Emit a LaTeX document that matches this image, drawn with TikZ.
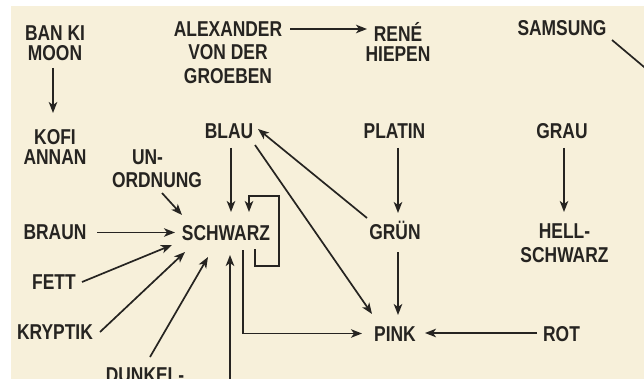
\documentclass[tikz,border=0pt]{standalone}
\usepackage{fontspec}
\setmainfont{Liberation Sans}[FakeStretch=0.81]
\usetikzlibrary{arrows.meta}
\definecolor{paper}{HTML}{F7F0DA}
\definecolor{ink}{HTML}{262421}
\tikzset{
  lbl/.style={font=\fontsize{21.5}{20.5}\selectfont\bfseries, inner sep=0pt, align=center, text=ink},
  one/.style={lbl, text height=15.4pt, text depth=0pt},
  gap/.style={lbl, font=\fontsize{21.5}{#1}\selectfont\bfseries},
  arr/.style={draw=ink, line width=1.7pt, -{Stealth[length=11pt,width=8.5pt,inset=3pt]}},
  ln/.style={draw=ink, line width=1.7pt}
}
\begin{document}
\begin{tikzpicture}[x=1pt,y=-1pt]
  \useasboundingbox (0,0) rectangle (644,379);
  \clip (0,0) rectangle (644,379);
  \fill[white] (0,0) rectangle (644,379);
  \fill[paper] (11,6) rectangle (650,385);

  % labels
  \node[gap=20]   (ban)     at (55,43.5)   {BAN KI\\MOON};
  \node[gap=20.5] (kofi)    at (55,147)    {KOFI\\ANNAN};
  \node[gap=23.5] (alex)    at (228,52.5)  {ALEXANDER\\VON DER\\GROEBEN};
  \node[gap=20]   (rene)    at (398,42.3)  {RENÉ\\HIEPEN};
  \node[one]      (samsung) at (562,27.5)  {SAMSUNG};
  \node[one]      (blau)    at (229,131)   {BLAU};
  \node[one]      (platin)  at (394.5,130.5) {PLATIN};
  \node[one]      (grau)    at (562,130.5) {GRAU};
  \node[gap=23]   (unord)   at (157,169)   {UN-\hspace*{19pt}\\ORDNUNG};
  \node[one]      (schwarz) at (226,232.5) {SCHWARZ};
  \node[one]      (gruen)   at (395,232)   {GRÜN};
  \node[gap=23.5] (hell)    at (564.5,243) {HELL-\\SCHWARZ};
  \node[one]      (braun)   at (55,231.5)  {BRAUN};
  \node[one]      (fett)    at (54,281.5)  {FETT};
  \node[one]      (kryptik) at (55,331.5)  {KRYPTIK};
  \node[one]      (dunkel)  at (145,375)   {DUNKEL-};
  \node[one]      (pink)    at (395,333.5) {PINK};
  \node[one]      (rot)     at (561.5,333.5) {ROT};

  \coordinate (below) at (230,390);
  \coordinate (offright) at (650,72);

  % connectors
  \draw[arr] ([shift={(-2,24.5)}]ban.center) -- ([shift={(-2,-34)}]kofi.center);
  \draw[arr] ([shift={(62,-23.5)}]alex.center) -- ([shift={(-31,-13.3)}]rene.center);
  \draw[ln]  ([shift={(50,12.5)}]samsung.center) -- (offright);
  \draw[arr] ([shift={(2,17)}]blau.center) -- ([shift={(5,-20.5)}]schwarz.center);
  \draw[arr] ([shift={(29,16.5)}]schwarz.center) |- ++(24,17) |- ++(-30,-70) -- ++(0,16);
  \draw[arr] ([shift={(17,17.5)}]schwarz.center) |- ([shift={(-33,0)}]pink.center);
  \draw[arr] (below) -- ([shift={(4,22.5)}]schwarz.center);
  \draw[arr] ([shift={(5,24)}]unord.center) -- ([shift={(-44,-17.5)}]schwarz.center);
  \draw[arr] ([shift={(42,1)}]braun.center) -- ([shift={(-51,0)}]schwarz.center);
  \draw[arr] ([shift={(28,0.5)}]fett.center) -- ([shift={(-54,12.5)}]schwarz.center);
  \draw[arr] ([shift={(45,0.5)}]kryptik.center) -- ([shift={(-41,19.5)}]schwarz.center);
  \draw[arr] ([shift={(5,-18)}]dunkel.center) -- ([shift={(-18,24.5)}]schwarz.center);
  \draw[arr] ([shift={(26,14)}]blau.center) -- ([shift={(-23,-19.5)}]pink.center);
  \draw[arr] ([shift={(-28,-14)}]gruen.center) -- ([shift={(29,-2)}]blau.center);
  \draw[arr] ([shift={(3.5,17.5)}]platin.center) -- ([shift={(3,-19)}]gruen.center);
  \draw[arr] ([shift={(3,20)}]gruen.center) -- ([shift={(3,-18.5)}]pink.center);
  \draw[arr] ([shift={(-24.5,-0.5)}]rot.center) -- ([shift={(30,-0.5)}]pink.center);
  \draw[arr] ([shift={(2,17.5)}]grau.center) -- ([shift={(-0.5,-31)}]hell.center);
\end{tikzpicture}
\end{document}
